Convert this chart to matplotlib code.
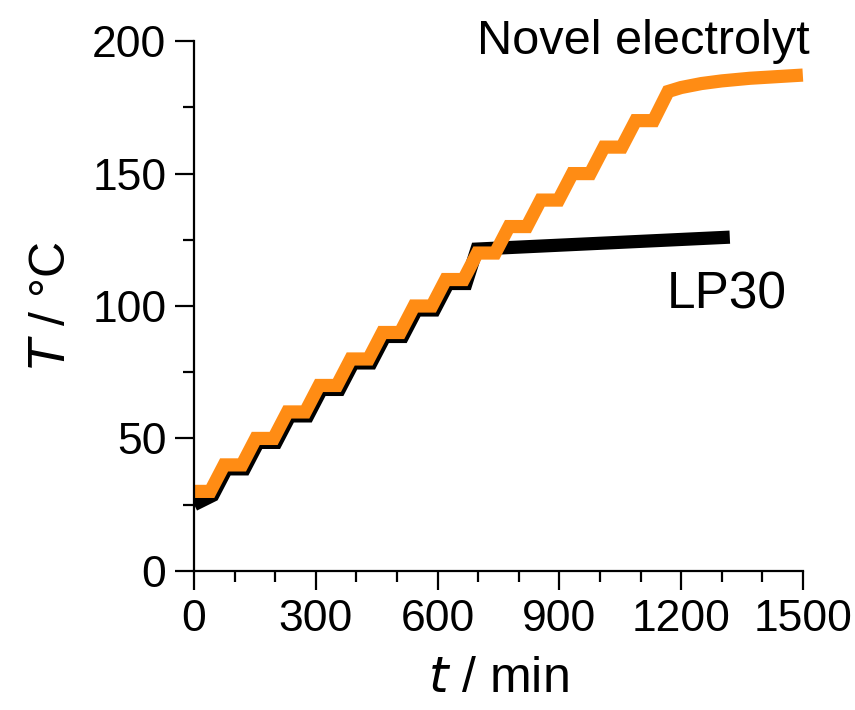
import matplotlib
matplotlib.use("Agg")
import matplotlib.pyplot as plt
from matplotlib.ticker import MultipleLocator

# ==================================================
# DATA
# ==================================================

lp30_t = [0, 46, 80, 124, 158, 202, 236, 280, 314, 358, 392, 436, 470, 514,
          548, 592, 626, 670, 697, 1320]
lp30_T = [25, 28.5, 38.5, 38.5, 48.5, 48.5, 58.5, 58.5, 68.5, 68.5, 78.5, 78.5,
          88.5, 88.5, 98.5, 98.5, 108.5, 108.5, 121.5, 126]

novel_t = [0, 40, 74, 118, 152, 196, 230, 274, 308, 352, 386, 430, 464, 508,
           542, 586, 620, 664, 698, 742, 776, 820, 854, 898, 932, 976, 1010,
           1054, 1088, 1132, 1168, 1200, 1250, 1300, 1370, 1500]
novel_T = [30, 30, 40, 40, 50, 50, 60, 60, 70, 70, 80, 80, 90, 90,
           100, 100, 110, 110, 120, 120, 130, 130, 140, 140, 150, 150, 160,
           160, 170, 170, 181, 182.5, 184, 185, 186, 187.2]

x_ticks = [0, 300, 600, 900, 1200, 1500]
y_ticks = [0, 50, 100, 150, 200]

# ==================================================
# PLOT
# ==================================================

plt.rcParams["font.family"] = ["Liberation Sans", "DejaVu Sans"]

fig = plt.figure(figsize=(8.55, 7.10), dpi=100)
ax = fig.add_axes([0.227, 0.196, 0.712, 0.746])

line_kw = dict(linewidth=9.5, solid_capstyle="butt", solid_joinstyle="miter")
ax.plot(lp30_t, lp30_T, color="black", **line_kw)
ax.plot(novel_t, novel_T, color="#ff8c14", clip_on=False, **line_kw)

ax.set_xlim(0, 1500)
ax.set_ylim(0, 200)
ax.set_xticks(x_ticks)
ax.set_yticks(y_ticks)
ax.xaxis.set_minor_locator(MultipleLocator(100))
ax.yaxis.set_minor_locator(MultipleLocator(25))

for side in ["top", "right"]:
    ax.spines[side].set_visible(False)
for side in ["left", "bottom"]:
    ax.spines[side].set_linewidth(1.6)

ax.tick_params(which="major", direction="out", length=14, width=1.6,
               labelsize=32, pad=6)
ax.tick_params(which="minor", direction="out", length=8, width=1.6)

ax.set_xlabel(r"$\it{t}$ / min", fontsize=36, labelpad=12)
ax.set_ylabel(r"$\it{T}$ / °C", fontsize=36, labelpad=12)

ax.text(1517, 195, "Novel electrolyt", fontsize=35, ha="right", va="baseline",
        clip_on=False)
ax.text(1312, 104, "LP30", fontsize=37, ha="center", va="center")

fig.savefig("out.png", dpi=100)
